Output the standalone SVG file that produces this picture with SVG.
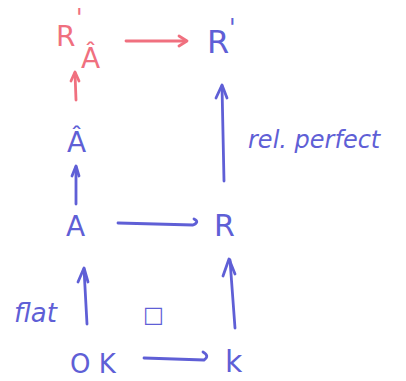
<svg xmlns="http://www.w3.org/2000/svg" width="406" height="381" viewBox="0 0 406 381">
  <style>
    .b { fill: #5f5fd6; font-family: "DejaVu Sans", "Liberation Sans", sans-serif; }
    .r { fill: #f0707f; font-family: "DejaVu Sans", "Liberation Sans", sans-serif; }
    .lb { stroke: #5f5fd6; stroke-width: 2.8; fill: none; stroke-linecap: round; stroke-linejoin: round; }
    .lr { stroke: #f0707f; stroke-width: 2.8; fill: none; stroke-linecap: round; stroke-linejoin: round; }
  </style>
  <rect width="406" height="381" fill="#ffffff"/>

  <g id="edges">
    <!-- R'Â -> R' (red) -->
    <path class="lr" d="M126,41 L186,41"/>
    <path class="lr" d="M179,36 L187,41 L179,46"/>
    <!-- Â -> R'Â (red) -->
    <path class="lr" d="M76,100 L75,73"/>
    <path class="lr" d="M71,81 L75,72 L79,81"/>
    <!-- A -> Â -->
    <path class="lb" d="M76,204 L76,167"/>
    <path class="lb" d="M72,176 L76,166 L79,176"/>
    <!-- R -> R' -->
    <path class="lb" d="M224,181 L222,86"/>
    <path class="lb" d="M216,98 L222,85 L227,98"/>
    <!-- A -> R (hooked end) -->
    <path class="lb" d="M118,223 L193,225 Q200,222 194,219"/>
    <!-- Ok -> A -->
    <path class="lb" d="M87,324 L84,269"/>
    <path class="lb" d="M78,282 L84,268 L88,282"/>
    <!-- k -> R -->
    <path class="lb" d="M235,328 L230,260"/>
    <path class="lb" d="M223,276 L229,259 L235,274"/>
    <!-- Ok -> k (hooked end) -->
    <path class="lb" d="M144,358 L204,360 Q210,356 203,352"/>
  </g>

  <g id="node-RpAhat">
    <text class="r" x="56" y="46" font-size="28">R</text>
    <text class="r" x="76" y="26" font-size="24">'</text>
    <text class="r" x="81" y="68" font-size="28">Â</text>
  </g>
  <g id="node-Rp">
    <text class="b" x="207" y="53" font-size="32">R</text>
    <text class="b" x="229" y="36" font-size="24">'</text>
  </g>
  <g id="node-Ahat">
    <text class="b" x="67" y="152" font-size="28">Â</text>
  </g>
  <g id="node-A">
    <text class="b" x="66" y="236" font-size="28">A</text>
  </g>
  <g id="node-R">
    <text class="b" x="214" y="236" font-size="30">R</text>
  </g>
  <g id="node-Ok">
    <text class="b" x="70" y="373" font-size="26">O K</text>
  </g>
  <g id="node-k">
    <text class="b" x="225" y="372" font-size="30">k</text>
  </g>

  <g id="labels">
    <text class="b" x="14" y="322" font-size="26" font-style="italic">flat</text>
    <text class="b" x="143" y="322" font-size="22">□</text>
    <text class="b" x="248" y="148" font-size="24" font-style="italic">rel. perfect</text>
  </g>
</svg>
